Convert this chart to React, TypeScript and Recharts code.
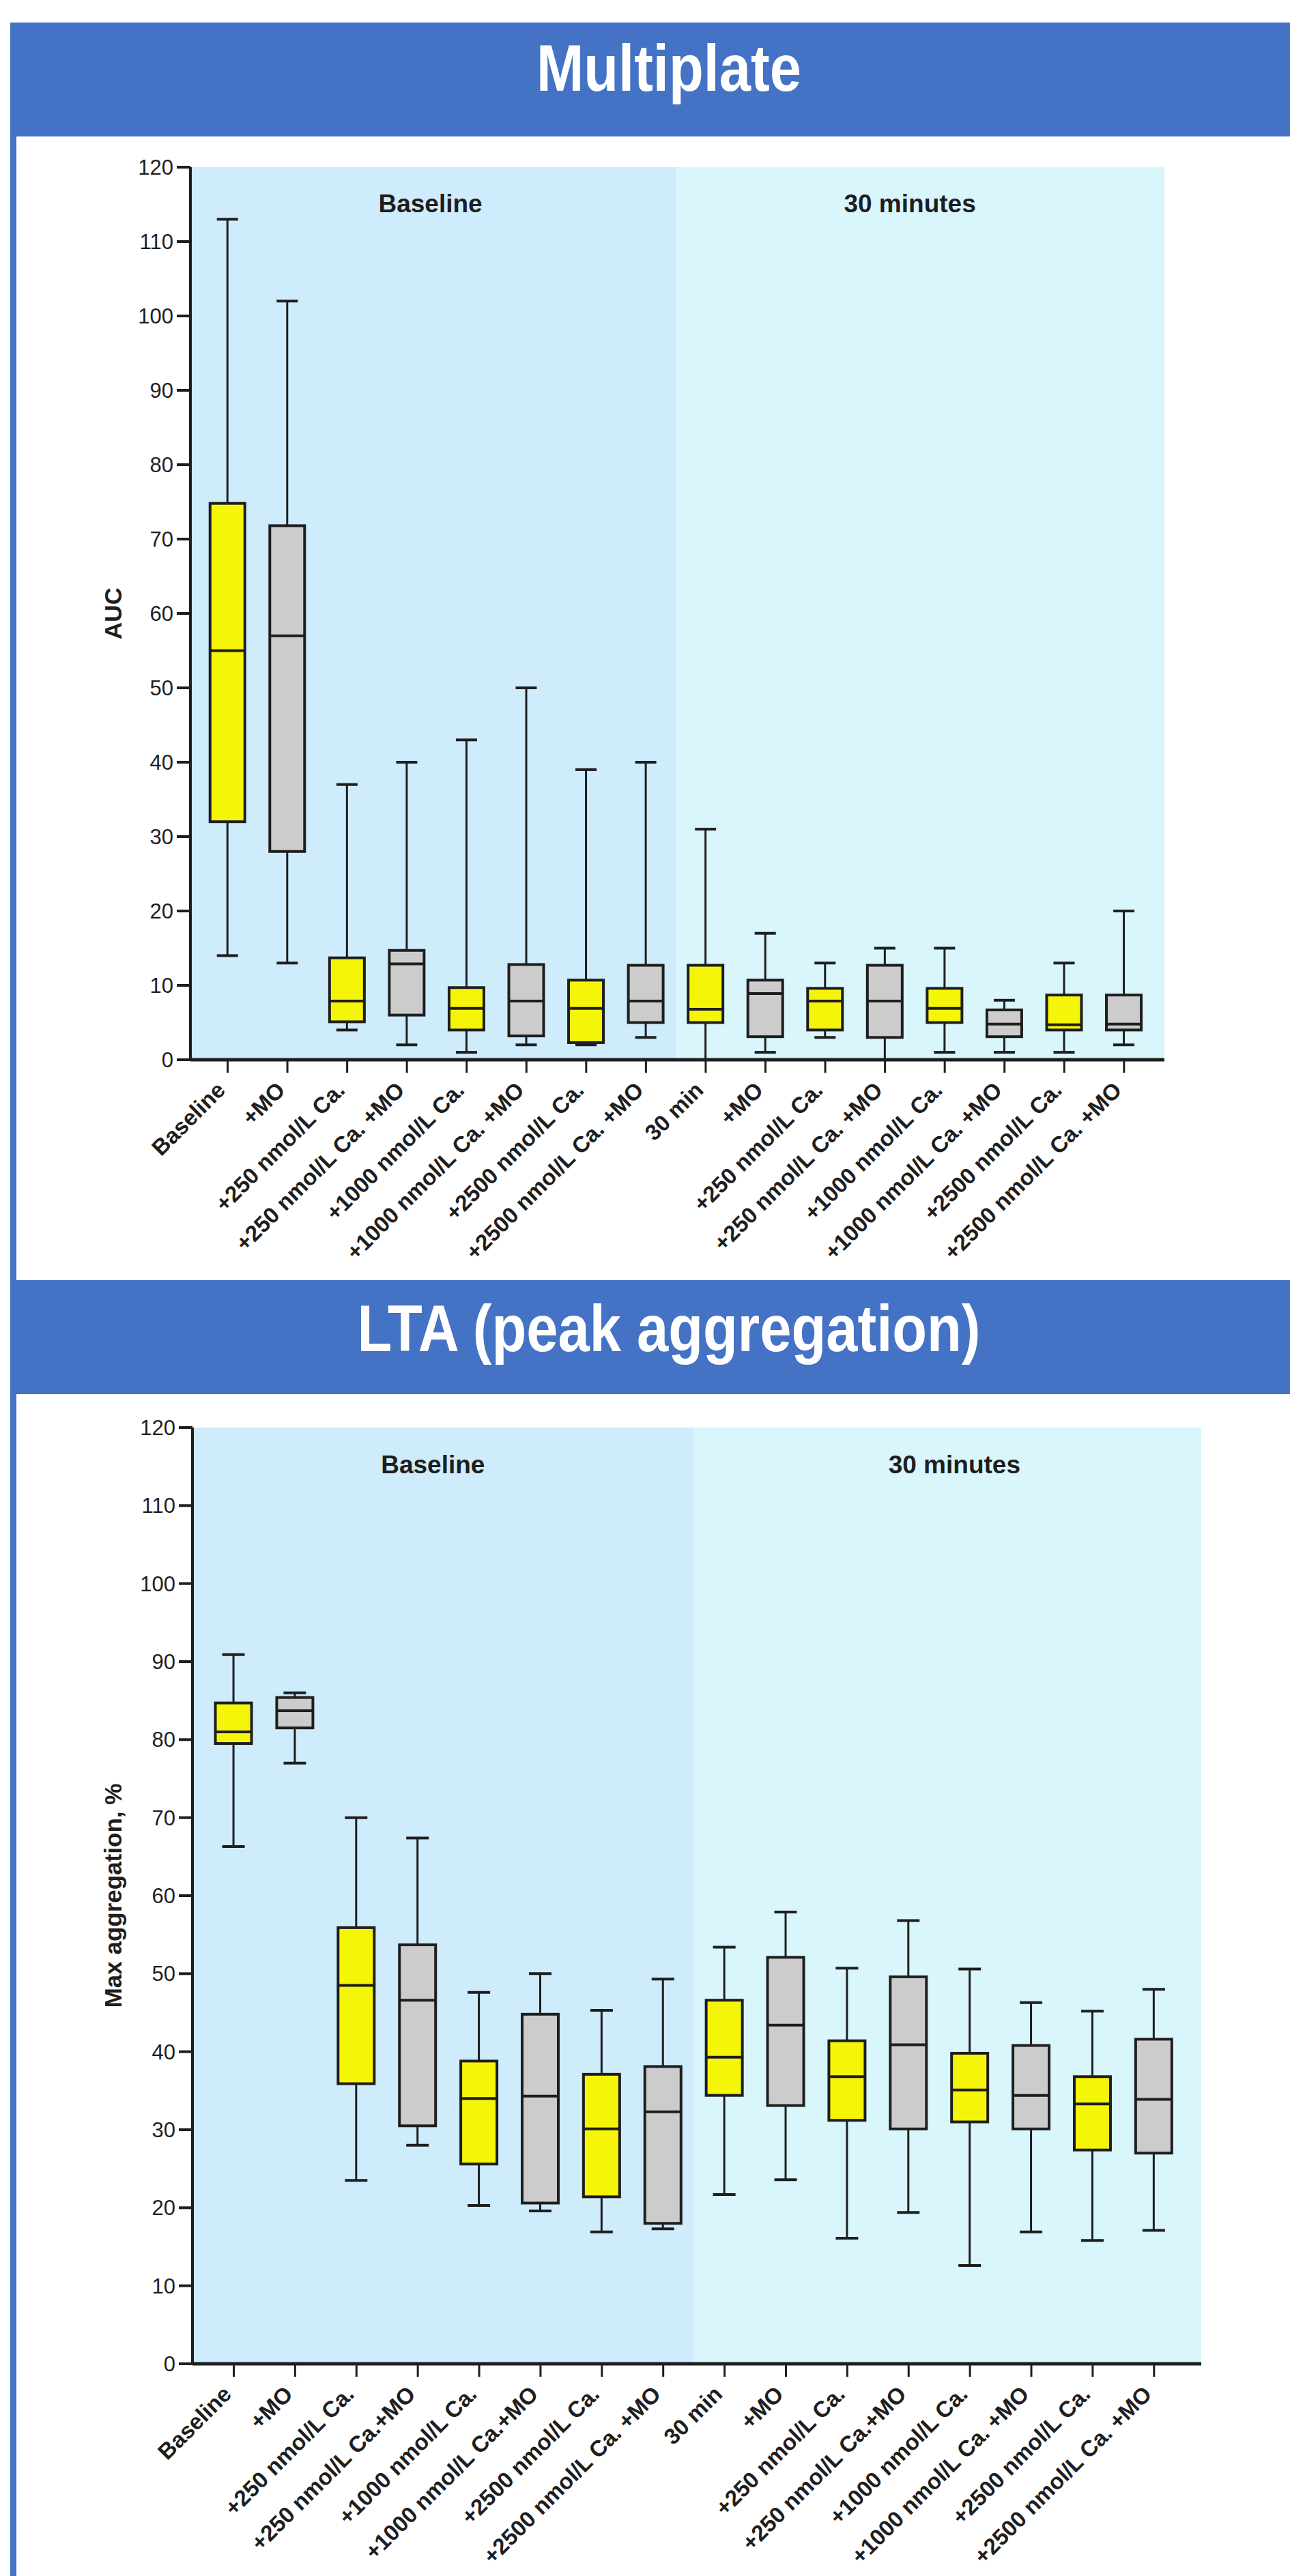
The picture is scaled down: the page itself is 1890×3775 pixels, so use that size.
import React from 'react';
import { ComposedChart, Bar, XAxis, YAxis, ReferenceArea } from 'recharts';

const FONT = '"Liberation Sans", Arial, Helvetica, sans-serif';
const BLUE = '#4472c4';
const YELLOW = '#f5f50a';
const GRAY = '#cccccc';
const INK = '#1e1e1e';
const BG_BASE = '#cfecfc';
const BG_30 = '#d9f6fd';

// ---- Multiplate (AUC) ----
const mpCategories = [
  'Baseline', '+MO', '+250 nmol/L Ca.', '+250 nmol/L Ca. +MO', '+1000 nmol/L Ca.', '+1000 nmol/L Ca. +MO',
  '+2500 nmol/L Ca.', '+2500 nmol/L Ca. +MO', '30 min', '+MO', '+250 nmol/L Ca.', '+250 nmol/L Ca. +MO',
  '+1000 nmol/L Ca.', '+1000 nmol/L Ca. +MO', '+2500 nmol/L Ca.', '+2500 nmol/L Ca. +MO',
];
const mpMin = [14, 13, 4, 2, 1, 2, 2, 3, 0, 1, 3, 0, 1, 1, 1, 2];
const mpQ1 = [32, 28, 5.1, 6, 4, 3.2, 2.3, 5, 5, 3.1, 4, 3, 5, 3.1, 4, 4];
const mpMedian = [55, 57, 7.9, 12.9, 6.9, 7.9, 6.9, 7.9, 6.8, 8.9, 7.9, 7.9, 6.9, 4.8, 4.7, 4.8];
const mpQ3 = [74.8, 71.8, 13.7, 14.7, 9.7, 12.8, 10.7, 12.7, 12.7, 10.7, 9.6, 12.7, 9.6, 6.7, 8.7, 8.7];
const mpMax = [113, 102, 37, 40, 43, 50, 39, 40, 31, 17, 13, 15, 15, 8, 13, 20];

// ---- LTA (peak aggregation) ----
const ltaCategories = [
  'Baseline', '+MO', '+250 nmol/L Ca.', '+250 nmol/L Ca.+MO', '+1000 nmol/L Ca.', '+1000 nmol/L Ca.+MO',
  '+2500 nmol/L Ca.', '+2500 nmol/L Ca. +MO', '30 min', '+MO', '+250 nmol/L Ca.', '+250 nmol/L Ca.+MO',
  '+1000 nmol/L Ca.', '+1000 nmol/L Ca. +MO', '+2500 nmol/L Ca.', '+2500 nmol/L Ca. +MO',
];
const ltaMin = [66.3, 77.0, 23.5, 28.0, 20.3, 19.6, 16.9, 17.3, 21.7, 23.6, 16.1, 19.4, 12.6, 16.9, 15.8, 17.1];
const ltaQ1 = [79.5, 81.5, 35.9, 30.5, 25.6, 20.6, 21.4, 18.0, 34.4, 33.1, 31.2, 30.1, 31.0, 30.1, 27.4, 27.0];
const ltaMedian = [81.0, 83.7, 48.5, 46.6, 34.0, 34.3, 30.1, 32.3, 39.3, 43.4, 36.8, 40.9, 35.1, 34.4, 33.3, 33.9];
const ltaQ3 = [84.7, 85.4, 55.9, 53.7, 38.8, 44.8, 37.1, 38.1, 46.6, 52.1, 41.4, 49.6, 39.8, 40.8, 36.8, 41.6];
const ltaMax = [90.9, 86.0, 70.0, 67.4, 47.6, 50.0, 45.3, 49.3, 53.4, 57.9, 50.7, 56.8, 50.6, 46.3, 45.2, 48.0];

const yTicks = [0, 10, 20, 30, 40, 50, 60, 70, 80, 90, 100, 110, 120];
const sectionLabels = ['Baseline', '30 minutes'];

function buildRows(min: number[], q1: number[], med: number[], q3: number[], max: number[]) {
  return min.map((_, i) => ({
    idx: i + 1,
    min: min[i],
    q1: q1[i],
    median: med[i],
    q3: q3[i],
    max: max[i],
    fill: i % 2 === 0 ? YELLOW : GRAY,
  }));
}

const mpRows = buildRows(mpMin, mpQ1, mpMedian, mpQ3, mpMax);
const ltaRows = buildRows(ltaMin, ltaQ1, ltaMedian, ltaQ3, ltaMax);

function makeBoxShape(boxW: number, capW: number) {
  return (props: any) => {
    const { x, y, width, height, payload } = props;
    if (x == null || y == null || !payload) return <g />;
    const top = Math.min(y, y + height);
    const h = Math.abs(height);
    const span = payload.max - payload.min;
    const py = (v: number) => top + ((payload.max - v) / span) * h;
    const cx = x + width / 2;
    const yMax = py(payload.max);
    const yQ3 = py(payload.q3);
    const yMed = py(payload.median);
    const yQ1 = py(payload.q1);
    const yMin = py(payload.min);
    return (
      <g>
        <line x1={cx} x2={cx} y1={yMax} y2={yQ3} stroke={INK} strokeWidth={3} />
        <line x1={cx} x2={cx} y1={yQ1} y2={yMin} stroke={INK} strokeWidth={3} />
        <line x1={cx - capW / 2} x2={cx + capW / 2} y1={yMax} y2={yMax} stroke={INK} strokeWidth={4} />
        <line x1={cx - capW / 2} x2={cx + capW / 2} y1={yMin} y2={yMin} stroke={INK} strokeWidth={4} />
        <rect x={cx - boxW / 2} y={yQ3} width={boxW} height={yQ1 - yQ3} fill={payload.fill} stroke={INK} strokeWidth={4} />
        <line x1={cx - boxW / 2} x2={cx + boxW / 2} y1={yMed} y2={yMed} stroke={INK} strokeWidth={4} />
      </g>
    );
  };
}

function makeXTick(labels: string[]) {
  return (props: any) => {
    const { x, y, payload } = props;
    const ax = x - 18;
    return (
      <text
        x={ax}
        y={y}
        dy="0.71em"
        transform={`rotate(-45, ${ax}, ${y})`}
        textAnchor="end"
        fontSize={33}
        fontWeight="bold"
        fontFamily={FONT}
        fill={INK}
      >
        {labels[payload.value - 1]}
      </text>
    );
  };
}

type ChartProps = {
  rows: any[];
  labels: string[];
  yLabel: string;
  width: number;
  height: number;
  margin: { top: number; right: number; bottom: number; left: number };
  xAxisHeight: number;
  xDomain: [number, number];
  boxW: number;
  capW: number;
  sectionDx: [number, number];
  sectionY: number;
};

function BoxChart(p: ChartProps) {
  const ticks = p.rows.map((r) => r.idx);
  const sectionContent = (text: string, dx: number) => (lp: any) => {
    const vb = lp.viewBox || {};
    return (
      <text
        x={vb.x + vb.width / 2 + dx}
        y={vb.y + p.sectionY}
        textAnchor="middle"
        fontSize={37}
        fontWeight="bold"
        fontFamily={FONT}
        fill={INK}
      >
        {text}
      </text>
    );
  };
  const yLabelContent = (lp: any) => {
    const vb = lp.viewBox || {};
    const cy = vb.y + vb.height / 2;
    return (
      <text
        x={178}
        y={cy}
        transform={`rotate(-90, 178, ${cy})`}
        textAnchor="middle"
        fontSize={35}
        fontWeight="bold"
        fontFamily={FONT}
        fill={INK}
      >
        {p.yLabel}
      </text>
    );
  };
  return (
    <ComposedChart width={p.width} height={p.height} data={p.rows} margin={p.margin}>
      <ReferenceArea
        x1={p.xDomain[0]}
        x2={8.5}
        y1={0}
        y2={120}
        fill={BG_BASE}
        fillOpacity={1}
        stroke="none"
        ifOverflow="visible"
        label={{ content: sectionContent(sectionLabels[0], p.sectionDx[0]) } as any}
      />
      <ReferenceArea
        x1={8.5}
        x2={p.xDomain[1]}
        y1={0}
        y2={120}
        fill={BG_30}
        fillOpacity={1}
        stroke="none"
        ifOverflow="visible"
        label={{ content: sectionContent(sectionLabels[1], p.sectionDx[1]) } as any}
      />
      <XAxis
        dataKey="idx"
        type="number"
        domain={p.xDomain}
        allowDataOverflow
        ticks={ticks}
        interval={0}
        height={p.xAxisHeight}
        tickSize={19}
        tickMargin={11}
        axisLine={{ stroke: INK, strokeWidth: 5 }}
        tickLine={{ stroke: INK, strokeWidth: 3 }}
        tick={makeXTick(p.labels)}
      />
      <YAxis
        type="number"
        domain={[0, 120]}
        ticks={yTicks}
        interval={0}
        width={80}
        tickSize={20}
        tickMargin={5}
        axisLine={{ stroke: INK, strokeWidth: 4 }}
        tickLine={{ stroke: INK, strokeWidth: 4 }}
        tick={{ fontSize: 31, fill: INK, fontFamily: FONT }}
        label={{ content: yLabelContent } as any}
      />
      <Bar
        dataKey={(d: any) => [d.min, d.max]}
        barSize={p.boxW}
        isAnimationActive={false}
        shape={makeBoxShape(p.boxW, p.capW)}
      />
    </ComposedChart>
  );
}

function TitleBar({ top, text, textWidth, baseline }: { top: number; text: string; textWidth: number; baseline: number }) {
  return (
    <div style={{ position: 'absolute', left: 15, top, width: 1875, height: 167, background: BLUE }}>
      <svg width={1875} height={167} style={{ display: 'block' }}>
        <text
          x={965}
          y={baseline}
          textAnchor="middle"
          fontSize={97}
          fontWeight="bold"
          fontFamily={FONT}
          fill="#ffffff"
          textLength={textWidth}
          lengthAdjust="spacingAndGlyphs"
        >
          {text}
        </text>
      </svg>
    </div>
  );
}

export default function App() {
  return (
    <div style={{ position: 'absolute', left: 0, top: 0, width: 1890, height: 3775, background: '#ffffff', overflow: 'hidden' }}>
      <div style={{ position: 'absolute', left: 15, top: 33, width: 9, height: 3742, background: BLUE }} />
      <TitleBar top={33} text="Multiplate" textWidth={388} baseline={100} />
      <TitleBar top={1876} text="LTA (peak aggregation)" textWidth={913} baseline={104} />
      <div style={{ position: 'absolute', left: 0, top: 200 }}>
        <BoxChart
          rows={mpRows}
          labels={mpCategories}
          yLabel="AUC"
          width={1890}
          height={1676}
          margin={{ top: 45, right: 184, bottom: 23, left: 199 }}
          xAxisHeight={300}
          xDomain={[0.3775, 16.676]}
          boxW={51}
          capW={31}
          sectionDx={[-4, -15]}
          sectionY={66}
        />
      </div>
      <div style={{ position: 'absolute', left: 0, top: 2043 }}>
        <BoxChart
          rows={ltaRows}
          labels={ltaCategories}
          yLabel="Max aggregation, %"
          width={1890}
          height={1732}
          margin={{ top: 49, right: 130, bottom: 21, left: 202 }}
          xAxisHeight={290}
          xDomain={[0.327, 16.77]}
          boxW={53}
          capW={33}
          sectionDx={[-15, 10]}
          sectionY={67}
        />
      </div>
    </div>
  );
}
